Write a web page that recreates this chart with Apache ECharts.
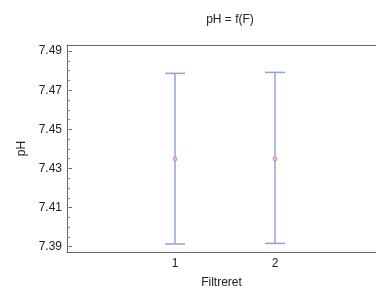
<!DOCTYPE html>
<html><head><meta charset="utf-8">
<script src="https://cdn.jsdelivr.net/npm/echarts@6/dist/echarts.min.js"></script>
<style>html,body{margin:0;padding:0;background:#fff}#c{width:376px;height:297px}</style>
</head><body><div id="c"></div>
<script>
const categories = [1, 2];
const categoryLabels = ['1', '2'];
const means = [7.4348, 7.4349];
const upper = [7.4786, 7.4791];
const lower = [7.3914, 7.3917];
const yTicks = [7.39, 7.41, 7.43, 7.45, 7.47, 7.49];
const yMinorTicks = [];
for (let i = 0; i <= 20; i++) yMinorTicks.push(+(7.39 + i * 0.005).toFixed(3));

const chart = echarts.init(document.getElementById('c'), null, {renderer: 'canvas'});
const font = 'Liberation Sans, Arial, sans-serif';
const errData = categories.map((c, i) => [c, lower[i], upper[i]]);
const meanData = categories.map((c, i) => [c, means[i]]);
chart.setOption({
  animation: false,
  title: {text: 'pH = f(F)', left: 225, top: 9, textAlign: 'center',
    textStyle: {fontFamily: font, fontSize: 12, fontWeight: 'normal', color: '#222'}},
  grid: {left: 67, top: 45, bottom: 45, right: 0, show: false},
  xAxis: [{type: 'value', min: -0.08, max: 3.01,
    name: 'Filtreret', nameLocation: 'middle', nameGap: 25,
    nameTextStyle: {fontFamily: font, fontSize: 12, color: '#222'},
    axisLine: {show: true, onZero: false, lineStyle: {color: '#666'}}, axisTick: {show: false},
    splitLine: {show: false},
    axisLabel: {customValues: categories, formatter: v => categoryLabels[categories.indexOf(v)] || '',
      fontFamily: font, fontSize: 12, color: '#222', margin: 6}},
   {type: 'value', min: -0.08, max: 3.01, position: 'top',
    axisLine: {show: true, onZero: false, lineStyle: {color: '#666'}}, axisTick: {show: false},
    axisLabel: {show: false}, splitLine: {show: false}}],
  yAxis: [{type: 'value', min: 7.3873, max: 7.4931,
    name: 'pH', nameLocation: 'middle', nameGap: 39,
    nameTextStyle: {fontFamily: font, fontSize: 12, color: '#222'},
    axisLine: {show: true, onZero: false, lineStyle: {color: '#666'}},
    axisTick: {show: true, inside: true, length: 5, customValues: yTicks, lineStyle: {color: '#666'}},
    splitLine: {show: false},
    axisLabel: {customValues: yTicks, formatter: v => v.toFixed(2), fontFamily: font, fontSize: 12, color: '#222', margin: 5}},
   {type: 'value', min: 7.3873, max: 7.4931, position: 'left', offset: 0,
    axisLine: {show: false, onZero: false},
    axisTick: {show: true, inside: true, length: 3, customValues: yMinorTicks, lineStyle: {color: '#888'}},
    axisLabel: {show: false}, splitLine: {show: false}}],
  series: [{
    type: 'custom', data: errData,
    renderItem: (params, api) => {
      const x = api.value(0);
      const lo = api.coord([x, api.value(1)]);
      const hi = api.coord([x, api.value(2)]);
      const hw = 10;
      return {type: 'group', children: [
        {type: 'line', shape: {x1: lo[0], y1: lo[1], x2: hi[0], y2: hi[1]}, style: {stroke: '#5a78c2', lineWidth: 1}},
        {type: 'line', shape: {x1: hi[0] - hw, y1: hi[1], x2: hi[0] + hw, y2: hi[1]}, style: {stroke: '#8ea2d8', lineWidth: 1.5}},
        {type: 'line', shape: {x1: lo[0] - hw, y1: lo[1], x2: lo[0] + hw, y2: lo[1]}, style: {stroke: '#8ea2d8', lineWidth: 1.5}}
      ]};
    }
  }, {
    type: 'scatter', data: meanData, symbol: 'circle', symbolSize: 4,
    itemStyle: {color: '#ecc4d4', borderColor: '#c87a96', borderWidth: 1}
  }]
});
</script></body></html>
